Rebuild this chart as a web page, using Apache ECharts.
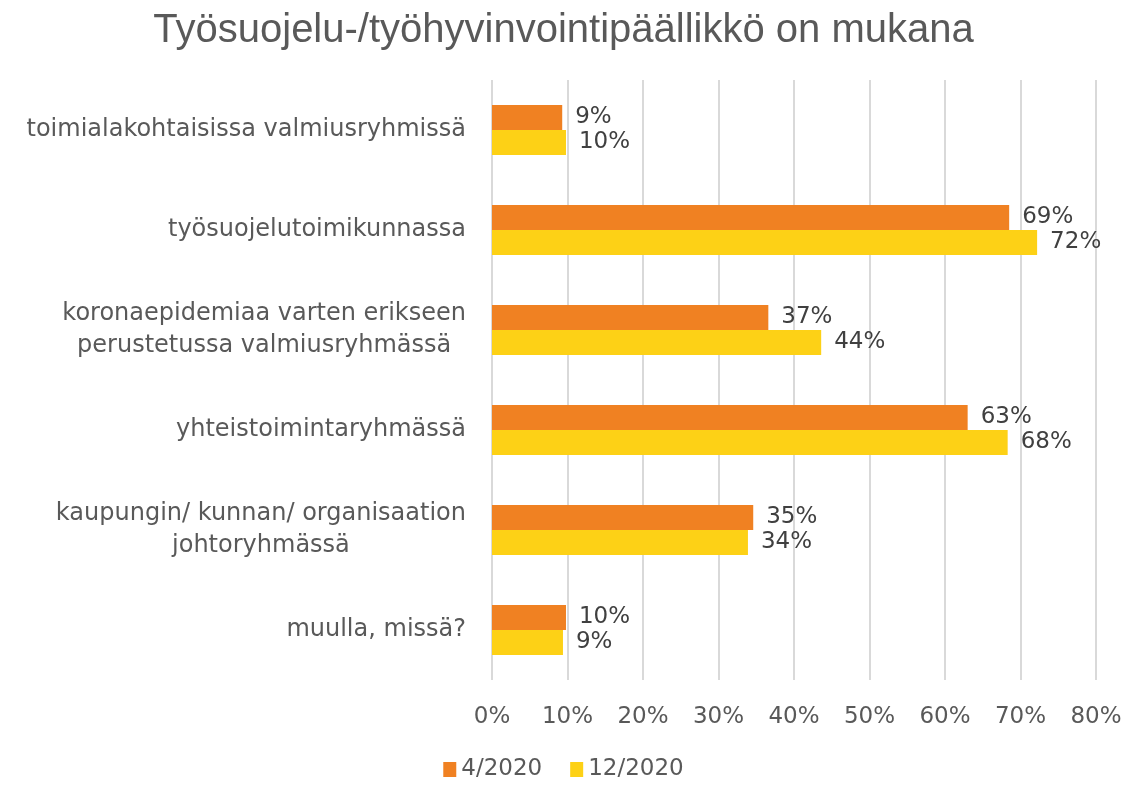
<!DOCTYPE html>
<html>
<head>
<meta charset="utf-8">
<script src="https://cdn.jsdelivr.net/npm/echarts@6/dist/echarts.min.js"></script>
<style>
  html, body { margin: 0; padding: 0; background: #fff; }
  #main { width: 1127px; height: 786px; }
</style>
</head>
<body>
<div id="main"></div>
<script>
// kategoriat ylhäältä alas
var categories = [
  'toimialakohtaisissa valmiusryhmissä',
  'työsuojelutoimikunnassa',
  'koronaepidemiaa varten erikseen\nperustetussa valmiusryhmässä',
  'yhteistoimintaryhmässä',
  'kaupungin/ kunnan/ organisaation\njohtoryhmässä',
  'muulla, missä?'
]
var apr2020 = [9.3, 68.5, 36.6, 63.0, 34.6, 9.8]
var dec2020 = [9.8, 72.2, 43.6, 68.3, 33.9, 9.4]
var ticks = [0, 10, 20, 30, 40, 50, 60, 70, 80]

var font = '"DejaVu Sans", sans-serif'
var chart = echarts.init(document.getElementById('main'))

var labelOption = {
  show: true,
  position: 'right',
  distance: 13,
  fontFamily: font,
  fontSize: 23,
  color: '#404040',
  formatter: function(p) { return Math.round(p.value) + '%' }
}

chart.setOption({
  animation: false,
  title: {
    text: 'Työsuojelu-/työhyvinvointipäällikkö on mukana',
    left: 'center',
    top: 6,
    textStyle: {
      fontFamily: '"Liberation Sans", sans-serif',
      fontWeight: 'normal',
      fontSize: 40,
      color: '#595959'
    }
  },
  legend: {
    bottom: 0,
    left: 'center',
    itemWidth: 13,
    itemHeight: 15,
    itemGap: 28,
    icon: 'rect',
    textStyle: { fontFamily: font, fontSize: 23, color: '#595959' },
    data: ['4/2020', '12/2020']
  },
  grid: { left: 492, right: 31, top: 80, bottom: 106, containLabel: false },
  xAxis: {
    type: 'value',
    min: ticks[0],
    max: ticks[ticks.length - 1],
    interval: 10,
    axisLine: { show: false },
    axisTick: { show: false },
    splitLine: { lineStyle: { color: '#d9d9d9', width: 2 } },
    axisLabel: {
      margin: 26,
      fontFamily: font,
      fontSize: 23,
      color: '#595959',
      formatter: '{value}%'
    }
  },
  yAxis: {
    type: 'category',
    inverse: true,
    data: categories,
    axisLine: { show: false },
    axisTick: { show: false },
    axisLabel: {
      margin: 26,
      formatter: function(v) {
        return v.split('\n').map(function(s) { return '{c|' + s + '}' }).join('\n')
      },
      rich: {
        c: { align: 'center', fontFamily: font, fontSize: 24, color: '#595959', lineHeight: 32 }
      }
    }
  },
  series: [
    {
      name: '4/2020',
      type: 'bar',
      data: apr2020,
      barWidth: 25,
      barGap: 0,
      itemStyle: { color: '#f08122' },
      label: labelOption
    },
    {
      name: '12/2020',
      type: 'bar',
      data: dec2020,
      barWidth: 25,
      itemStyle: { color: '#fdd116' },
      label: labelOption
    }
  ]
})
</script>
</body>
</html>
